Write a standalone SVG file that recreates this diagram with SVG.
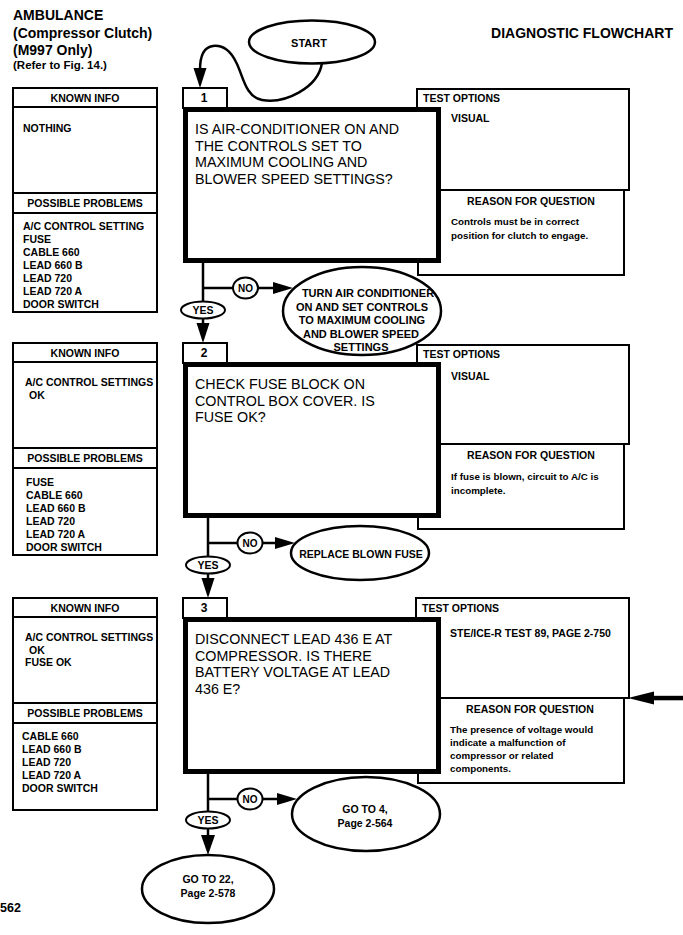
<svg xmlns="http://www.w3.org/2000/svg" width="683" height="935" viewBox="0 0 683 935">
<style>
text{font-family:"Liberation Sans",Arial,Helvetica,sans-serif;fill:#000}
.hd{font-weight:bold;font-size:14px}
.rf{font-weight:bold;font-size:11.5px}
.b{font-weight:bold;font-size:10.5px}
.c{text-anchor:middle}
.q{font-size:14.3px}
.r{font-weight:bold;font-size:9.8px}
.n{font-weight:bold;font-size:12px;text-anchor:middle}
.thin{fill:#fff;stroke:#000;stroke-width:2}
.ln{fill:none;stroke:#000;stroke-width:2}
.thick{fill:#fff;stroke:#000;stroke-width:5}
.oval{fill:#fff;stroke:#000;stroke-width:2.5}
.lab{fill:#fff;stroke:#000;stroke-width:2}
.conn{fill:none;stroke:#000;stroke-width:2.5}
.head{fill:#000;stroke:none}
</style>

<g id="header">
<text class="hd" x="13" y="20">AMBULANCE</text>
<text class="hd" x="13" y="37.5">(Compressor Clutch)</text>
<text class="hd" x="13" y="55">(M997 Only)</text>
<text class="rf" x="13" y="68.5">(Refer to Fig. 14.)</text>
<text class="hd" x="673" y="37.5" text-anchor="end">DIAGNOSTIC FLOWCHART</text>
<text x="0" y="912" style="font-weight:bold;font-size:12.5px">562</text>
</g>

<g id="connectors">
<path class="conn" d="M322,63 C318,88 285,104 262,100 C245,97 243,75 236,62 C230,50 222,45 213,46 C204,47 200,56 200,70"/>
<polygon class="head" points="193.5,68 206.5,68 200,88"/>
<!-- step 1 -->
<line class="conn" x1="203" y1="263" x2="203" y2="324"/>
<polygon class="head" points="196.5,323 209.5,323 203,343"/>
<line class="conn" x1="203" y1="288" x2="274" y2="288"/>
<polygon class="head" points="273,282 273,294 293,288"/>
<!-- step 2 -->
<line class="conn" x1="208" y1="518" x2="208" y2="579"/>
<polygon class="head" points="201.5,578 214.5,578 208,598"/>
<line class="conn" x1="208" y1="543" x2="276" y2="543"/>
<polygon class="head" points="275,537 275,549 295,543"/>
<!-- step 3 -->
<line class="conn" x1="208" y1="774" x2="208" y2="836"/>
<polygon class="head" points="201,835 215,835 208,855"/>
<line class="conn" x1="208" y1="799" x2="278" y2="799"/>
<polygon class="head" points="277,793 277,805 297,799"/>
<!-- pointer arrow -->
<rect class="head" x="652" y="695.8" width="31" height="4.5"/>
<polygon class="head" points="628,698 654,691.5 654,704.5"/>
</g>

<g id="labels">
<ellipse class="lab" cx="245.5" cy="288" rx="12.5" ry="10.5"/>
<text class="b c" x="245.5" y="291.8" style="font-size:10px">NO</text>
<ellipse class="lab" cx="203" cy="310" rx="22" ry="8.5"/>
<text class="b c" x="203" y="313.8">YES</text>
<ellipse class="lab" cx="250" cy="543" rx="12.5" ry="10.5"/>
<text class="b c" x="250" y="546.8" style="font-size:10px">NO</text>
<ellipse class="lab" cx="208" cy="565" rx="22" ry="8.5"/>
<text class="b c" x="208" y="568.8">YES</text>
<ellipse class="lab" cx="250" cy="799" rx="12.5" ry="10.5"/>
<text class="b c" x="250" y="802.8" style="font-size:10px">NO</text>
<ellipse class="lab" cx="208" cy="820" rx="22" ry="8.5"/>
<text class="b c" x="208" y="823.8">YES</text>
</g>

<g id="start">
<ellipse class="oval" cx="312" cy="42" rx="63" ry="21.5"/>
<text class="c" x="309" y="47" style="font-weight:bold;font-size:11px">START</text>
</g>

<!-- SECTION 1 -->
<g id="known1">
<rect class="thin" x="13" y="88" width="144" height="224"/>
<line class="ln" x1="13" y1="107" x2="157" y2="107"/>
<line class="ln" x1="13" y1="193" x2="157" y2="193"/>
<line class="ln" x1="13" y1="213" x2="157" y2="213"/>
<text class="b c" x="85" y="101.5">KNOWN INFO</text>
<text class="b" x="23" y="132">NOTHING</text>
<text class="b c" x="85" y="207">POSSIBLE PROBLEMS</text>
<text class="b" x="23" y="230">A/C CONTROL SETTING</text>
<text class="b" x="23" y="243">FUSE</text>
<text class="b" x="23" y="256">CABLE 660</text>
<text class="b" x="23" y="269">LEAD 660 B</text>
<text class="b" x="23" y="282">LEAD 720</text>
<text class="b" x="23" y="295">LEAD 720 A</text>
<text class="b" x="23" y="308">DOOR SWITCH</text>
</g>
<g id="tests1">
<rect class="thin" x="418" y="190" width="206" height="85"/>
<rect class="thin" x="417" y="89" width="212" height="101"/>
<text class="b" x="423" y="101.5">TEST OPTIONS</text>
<text class="b" x="451" y="122">VISUAL</text>
<text class="b c" x="531" y="204.5">REASON FOR QUESTION</text>
<text class="r" x="451" y="225">Controls must be in correct</text>
<text class="r" x="451" y="238.5">position for clutch to engage.</text>
</g>
<g id="step1">
<rect class="thin" x="183" y="88" width="44" height="20"/>
<text class="n" x="204" y="102">1</text>
<rect class="thick" x="185.5" y="109.5" width="253" height="151"/>
<text class="q" x="195" y="134">IS AIR-CONDITIONER ON AND</text>
<text class="q" x="195" y="150.5">THE CONTROLS SET TO</text>
<text class="q" x="195" y="167">MAXIMUM COOLING AND</text>
<text class="q" x="195" y="183.5">BLOWER SPEED SETTINGS?</text>
</g>
<g id="turn-on">
<ellipse class="oval" cx="362" cy="311" rx="79" ry="44"/>
<text class="b c" x="368" y="297" style="font-size:11px">TURN AIR CONDITIONER</text>
<text class="b c" x="362" y="310.5" style="font-size:11px">ON AND SET CONTROLS</text>
<text class="b c" x="362" y="324" style="font-size:11px">TO MAXIMUM COOLING</text>
<text class="b c" x="361" y="337.5" style="font-size:11px">AND BLOWER SPEED</text>
<text class="b c" x="361" y="351" style="font-size:11px">SETTINGS</text>
</g>

<!-- SECTION 2 -->
<g id="known2">
<rect class="thin" x="13" y="343" width="144" height="212"/>
<line class="ln" x1="13" y1="362" x2="157" y2="362"/>
<line class="ln" x1="13" y1="448" x2="157" y2="448"/>
<line class="ln" x1="13" y1="468" x2="157" y2="468"/>
<text class="b c" x="85" y="356.5">KNOWN INFO</text>
<text class="b" x="25" y="386">A/C CONTROL SETTINGS</text>
<text class="b" x="29" y="398.5">OK</text>
<text class="b c" x="85" y="462">POSSIBLE PROBLEMS</text>
<text class="b" x="26" y="486">FUSE</text>
<text class="b" x="26" y="499">CABLE 660</text>
<text class="b" x="26" y="512">LEAD 660 B</text>
<text class="b" x="26" y="525">LEAD 720</text>
<text class="b" x="26" y="538">LEAD 720 A</text>
<text class="b" x="26" y="551">DOOR SWITCH</text>
</g>
<g id="tests2">
<rect class="thin" x="418" y="444" width="206" height="85"/>
<rect class="thin" x="417" y="345" width="212" height="99"/>
<text class="b" x="423" y="357.5">TEST OPTIONS</text>
<text class="b" x="451" y="380">VISUAL</text>
<text class="b c" x="531" y="458.5">REASON FOR QUESTION</text>
<text class="r" x="451" y="480">If fuse is blown, circuit to A/C is</text>
<text class="r" x="451" y="493.5">incomplete.</text>
</g>
<g id="step2">
<rect class="thin" x="183" y="343" width="44" height="20"/>
<text class="n" x="204" y="357">2</text>
<rect class="thick" x="185.5" y="364.5" width="253" height="151"/>
<text class="q" x="195" y="389">CHECK FUSE BLOCK ON</text>
<text class="q" x="195" y="405.5">CONTROL BOX COVER. IS</text>
<text class="q" x="195" y="422">FUSE OK?</text>
</g>
<g id="replace-fuse">
<ellipse class="oval" cx="360" cy="553" rx="69" ry="27"/>
<text class="b c" x="361" y="558">REPLACE BLOWN FUSE</text>
</g>

<!-- SECTION 3 -->
<g id="known3">
<rect class="thin" x="13" y="598" width="144" height="212"/>
<line class="ln" x1="13" y1="617" x2="157" y2="617"/>
<line class="ln" x1="13" y1="703" x2="157" y2="703"/>
<line class="ln" x1="13" y1="723" x2="157" y2="723"/>
<text class="b c" x="85" y="611.5">KNOWN INFO</text>
<text class="b" x="25" y="641">A/C CONTROL SETTINGS</text>
<text class="b" x="29" y="653.5">OK</text>
<text class="b" x="25" y="666">FUSE OK</text>
<text class="b c" x="85" y="717">POSSIBLE PROBLEMS</text>
<text class="b" x="22" y="740">CABLE 660</text>
<text class="b" x="22" y="753">LEAD 660 B</text>
<text class="b" x="22" y="766">LEAD 720</text>
<text class="b" x="22" y="779">LEAD 720 A</text>
<text class="b" x="22" y="792">DOOR SWITCH</text>
</g>
<g id="tests3">
<rect class="thin" x="418" y="698" width="206" height="85"/>
<rect class="thin" x="416" y="598" width="213" height="100"/>
<text class="b" x="422" y="612">TEST OPTIONS</text>
<text class="b" x="450" y="637">STE/ICE-R TEST 89, PAGE 2-750</text>
<text class="b c" x="530" y="713">REASON FOR QUESTION</text>
<text class="r" x="450" y="733">The presence of voltage would</text>
<text class="r" x="450" y="746">indicate a malfunction of</text>
<text class="r" x="450" y="759">compressor or related</text>
<text class="r" x="450" y="772">components.</text>
</g>
<g id="step3">
<rect class="thin" x="183" y="598" width="44" height="20"/>
<text class="n" x="204" y="612">3</text>
<rect class="thick" x="185.5" y="619.5" width="253" height="152"/>
<text class="q" x="195" y="644">DISCONNECT LEAD 436 E AT</text>
<text class="q" x="195" y="660.5">COMPRESSOR. IS THERE</text>
<text class="q" x="195" y="677">BATTERY VOLTAGE AT LEAD</text>
<text class="q" x="195" y="693.5">436 E?</text>
</g>
<g id="goto4">
<ellipse class="oval" cx="366" cy="814" rx="74" ry="37"/>
<text class="b c" x="365" y="813">GO TO 4,</text>
<text class="b c" x="365" y="827">Page 2-564</text>
</g>
<g id="goto22">
<ellipse class="oval" cx="208" cy="889" rx="66" ry="34"/>
<text class="b c" x="208" y="883">GO TO 22,</text>
<text class="b c" x="208" y="897">Page 2-578</text>
</g>
</svg>
